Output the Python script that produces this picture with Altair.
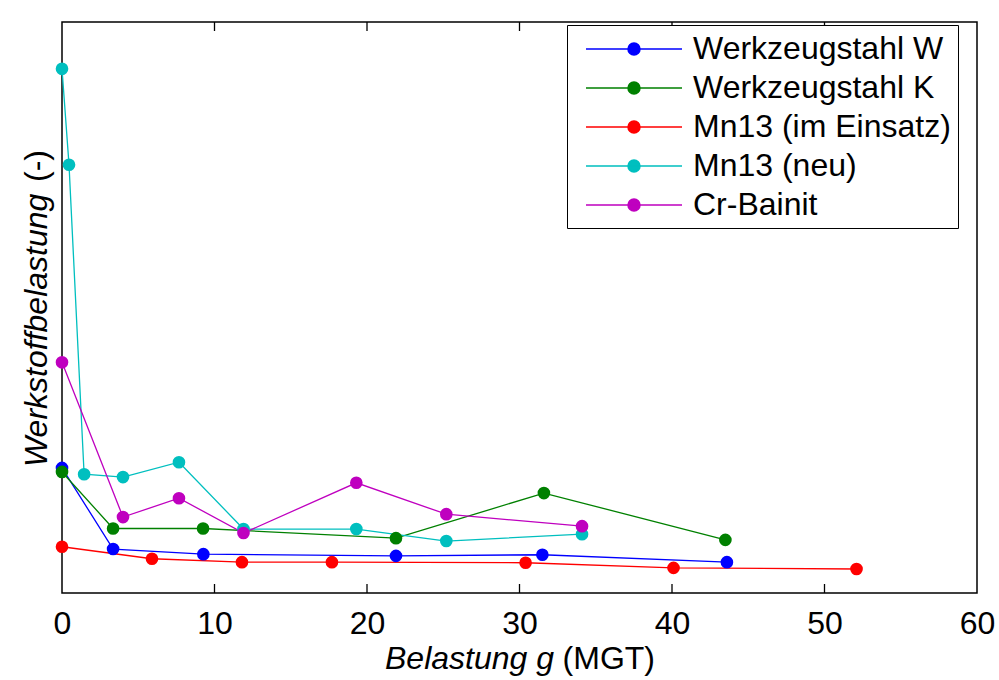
import altair as alt
import pandas as pd

# ---- data ----
series_names = ["Werkzeugstahl W", "Werkzeugstahl K", "Mn13 (im Einsatz)", "Mn13 (neu)", "Cr-Bainit"]
series_colors = ["#0000FF", "#008000", "#FF0000", "#00BFBF", "#BF00BF"]

w_x = [0, 3.35, 9.27, 21.9, 31.5, 43.6]
w_y = [2.19, 0.77, 0.68, 0.65, 0.67, 0.54]

k_x = [0, 3.35, 9.25, 21.9, 31.6, 43.5]
k_y = [2.12, 1.13, 1.13, 0.96, 1.75, 0.93]

mn_e_x = [0, 5.9, 11.8, 17.7, 30.4, 40.1, 52.1]
mn_e_y = [0.81, 0.60, 0.54, 0.54, 0.53, 0.44, 0.42]

mn_n_x = [0, 0.46, 1.45, 4.0, 7.67, 11.9, 19.3, 25.2, 34.1]
mn_n_y = [9.18, 7.50, 2.08, 2.03, 2.29, 1.12, 1.12, 0.91, 1.03]

cr_x = [0, 4.0, 7.67, 11.9, 19.3, 25.2, 34.1]
cr_y = [4.04, 1.33, 1.66, 1.05, 1.93, 1.38, 1.17]

x_ticks = [0, 10, 20, 30, 40, 50, 60]
inner_ticks = [10, 20, 30, 40, 50]
x_title_parts = ["Belastung g", "(MGT)"]
y_title_parts = ["Werkstoffbelastung", "(-)"]

# ---- table ----
rows = []
for name, xs, ys in zip(series_names,
                        [w_x, k_x, mn_e_x, mn_n_x, cr_x],
                        [w_y, k_y, mn_e_y, mn_n_y, cr_y]):
    for i, (xv, yv) in enumerate(zip(xs, ys)):
        rows.append({"series": name, "x": xv, "y": yv, "order": i})
df = pd.DataFrame(rows)

FONT = "Liberation Sans"
W, H = 915, 571

x_scale = alt.Scale(domain=[0, 60], nice=False, zero=False)
y_scale = alt.Scale(domain=[0, 10], nice=False, zero=False)
color_scale = alt.Scale(domain=series_names, range=series_colors)

sym = "M-0.3125,0H5.6875M2.3125,0A0.375,0.375,0,1,1,3.0625,0A0.375,0.375,0,1,1,2.3125,0Z"


def make_legend():
    return alt.Legend(
        title=None, orient="none", legendX=505, legendY=3,
        symbolType=sym, symbolSize=1024, symbolStrokeWidth=1.5, symbolOpacity=1,
        labelFont=FONT, labelFontSize=32, labelColor="black", labelOffset=85,
        labelLimit=500, padding=7, rowPadding=6,
        strokeColor="black", fillColor="white",
    )


x_axis = alt.Axis(
    values=x_ticks, grid=False, ticks=False, tickSize=0, domain=False,
    labelFont=FONT, labelFontSize=32, labelColor="black",
    labelBaseline="alphabetic", labelPadding=40, labelFlush=False,
    labelAngle=0, title=None,
)

lines = alt.Chart(df).mark_line(strokeWidth=1.3).encode(
    x=alt.X("x:Q", scale=x_scale, axis=x_axis),
    y=alt.Y("y:Q", scale=y_scale, axis=None),
    stroke=alt.Stroke("series:N", scale=color_scale, sort=series_names, legend=make_legend()),
    order=alt.Order("order:Q"),
)

points = alt.Chart(df).mark_circle(size=160, opacity=1).encode(
    x=alt.X("x:Q", scale=x_scale),
    y=alt.Y("y:Q", scale=y_scale),
    fill=alt.Fill("series:N", scale=color_scale, sort=series_names, legend=make_legend()),
)

tick_df = pd.DataFrame({"t": inner_ticks})
top_ticks = alt.Chart(tick_df).mark_rule(color="black", strokeWidth=1.3).encode(
    x=alt.X("t:Q", scale=x_scale), y=alt.value(0), y2=alt.value(9)
)
bottom_ticks = alt.Chart(tick_df).mark_rule(color="black", strokeWidth=1.3).encode(
    x=alt.X("t:Q", scale=x_scale), y=alt.value(H), y2=alt.value(H - 9)
)

xt1 = alt.Chart(pd.DataFrame({"t": [x_title_parts[0]]})).mark_text(
    font=FONT, fontSize=32, fontStyle="italic", align="left", baseline="alphabetic", color="black"
).encode(text="t:N", x=alt.value(323), y=alt.value(647))
xt2 = alt.Chart(pd.DataFrame({"t": [x_title_parts[1]]})).mark_text(
    font=FONT, fontSize=32, align="right", baseline="alphabetic", color="black"
).encode(text="t:N", x=alt.value(593), y=alt.value(647))

yt1 = alt.Chart(pd.DataFrame({"t": [y_title_parts[0]]})).mark_text(
    font=FONT, fontSize=32, fontStyle="italic", align="left", baseline="alphabetic",
    angle=270, color="black"
).encode(text="t:N", x=alt.value(-15), y=alt.value(445))
yt2 = alt.Chart(pd.DataFrame({"t": [y_title_parts[1]]})).mark_text(
    font=FONT, fontSize=32, align="right", baseline="alphabetic",
    angle=270, color="black"
).encode(text="t:N", x=alt.value(-15), y=alt.value(128))

chart = alt.layer(lines, points, top_ticks, bottom_ticks, xt1, xt2, yt1, yt2).properties(
    width=W, height=H,
    autosize=alt.AutoSizeParams(type="none"),
    padding={"left": 62, "top": 22, "right": 22, "bottom": 87},
    background="white",
).configure_view(
    stroke="black", strokeWidth=1.5
)

chart.save("out.html", embed_options={"renderer": "svg", "actions": False})
